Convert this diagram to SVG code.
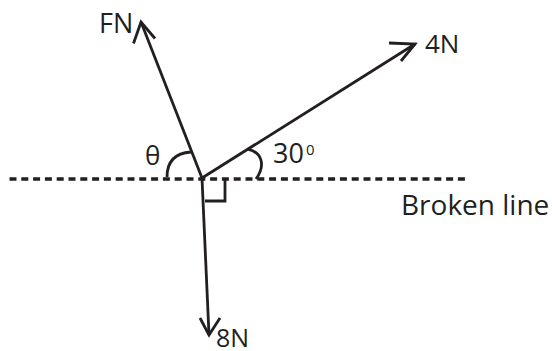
<svg xmlns="http://www.w3.org/2000/svg" width="552" height="351" viewBox="0 0 552 351">
<style>
.ln{fill:none;stroke:#231f20;stroke-width:2.8;stroke-linecap:butt;stroke-linejoin:miter}
.dash{fill:none;stroke:#231f20;stroke-width:3.5;stroke-dasharray:7 4.8}
text{font-family:"Open Sans","Liberation Sans",sans-serif;fill:#231f20}
</style>
<rect width="552" height="351" fill="#ffffff"/>
<g id="broken-line">
<path class="dash" d="M9.5,179 H468"/>
<text x="401" y="215" font-size="28">Broken line</text>
</g>
<g id="connectors">
<path class="ln" d="M202,178 L141,22"/>
<path class="ln" d="M133.5,43.5 L141,22 L155,38.5"/>
<path class="ln" d="M202,178 L415,44"/>
<path class="ln" d="M389,43 L415,44 L401,61"/>
<path class="ln" d="M202,178 L209,335"/>
<path class="ln" d="M200,318 L209,335 L220,318"/>
</g>
<g id="angles">
<path class="ln" d="M225,179 V201 H205"/>
<path class="ln" d="M167,177 C167,160 177,153 191,152"/>
<path class="ln" d="M247,149 C262,152 266,165 256,179"/>
<text x="145" y="165" font-size="26">θ</text>
<text x="273" y="163" font-size="27">30</text>
<text x="306" y="155" font-size="15">0</text>
</g>
<g id="force-FN"><text x="99" y="33" font-size="27">FN</text></g>
<g id="force-4N"><text x="425" y="53" font-size="26">4N</text></g>
<g id="force-8N"><text x="216" y="347" font-size="25">8N</text></g>
</svg>
